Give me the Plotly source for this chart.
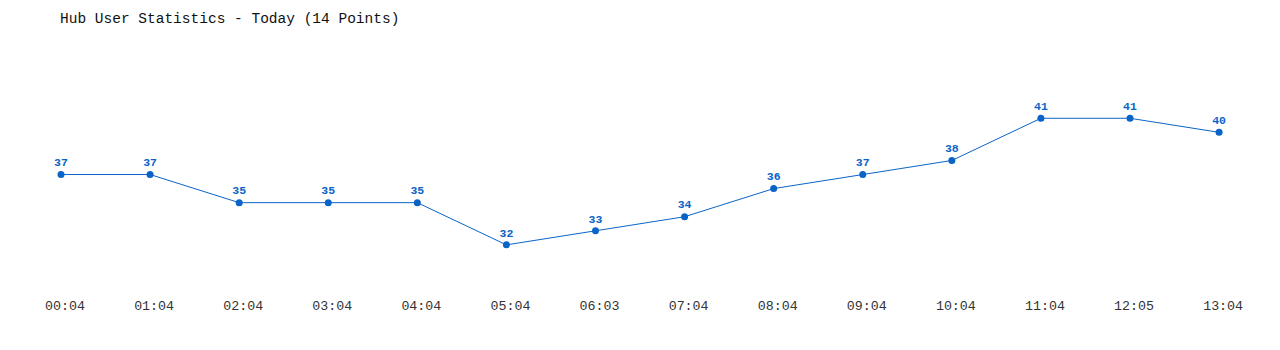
import plotly.graph_objects as go

times = ["00:04", "01:04", "02:04", "03:04", "04:04", "05:04", "06:03",
         "07:04", "08:04", "09:04", "10:04", "11:04", "12:05", "13:04"]
users = [37, 37, 35, 35, 35, 32, 33, 34, 36, 37, 38, 41, 41, 40]
title_text = "Hub User Statistics - Today (14 Points)"

blue = "#0a64c8"
mono = "Liberation Mono, DejaVu Sans Mono, monospace"

idx = list(range(len(times)))

fig = go.Figure()
fig.add_trace(go.Scatter(
    x=idx, y=users, mode="lines+markers+text",
    line=dict(color=blue, width=1),
    marker=dict(color=blue, size=7),
    text=[str(v) for v in users],
    textposition="top center",
    textfont=dict(family=mono, size=11.5, color=blue, weight="bold"),
    cliponaxis=False,
    hoverinfo="skip",
))

fig.update_layout(
    width=1280, height=350,
    margin=dict(l=61, r=52, t=62, b=77),
    paper_bgcolor="white", plot_bgcolor="white",
    showlegend=False,
    title=dict(text=title_text, x=60/1280, xanchor="left", y=1-18/350, yanchor="middle",
               font=dict(family=mono, size=14.5, color="#111111")),
    xaxis=dict(range=[0, 13.1], tickmode="array", tickvals=[i + 0.045 for i in idx], ticktext=times,
               showgrid=False, zeroline=False, showline=False,
               ticks="outside", ticklen=20, tickcolor="rgba(0,0,0,0)",
               tickfont=dict(family=mono, size=13.3, color="#333333")),
    yaxis=dict(range=[30, 45], showgrid=False, zeroline=False, showline=False,
               showticklabels=False),
)

fig.write_html("out.html")
